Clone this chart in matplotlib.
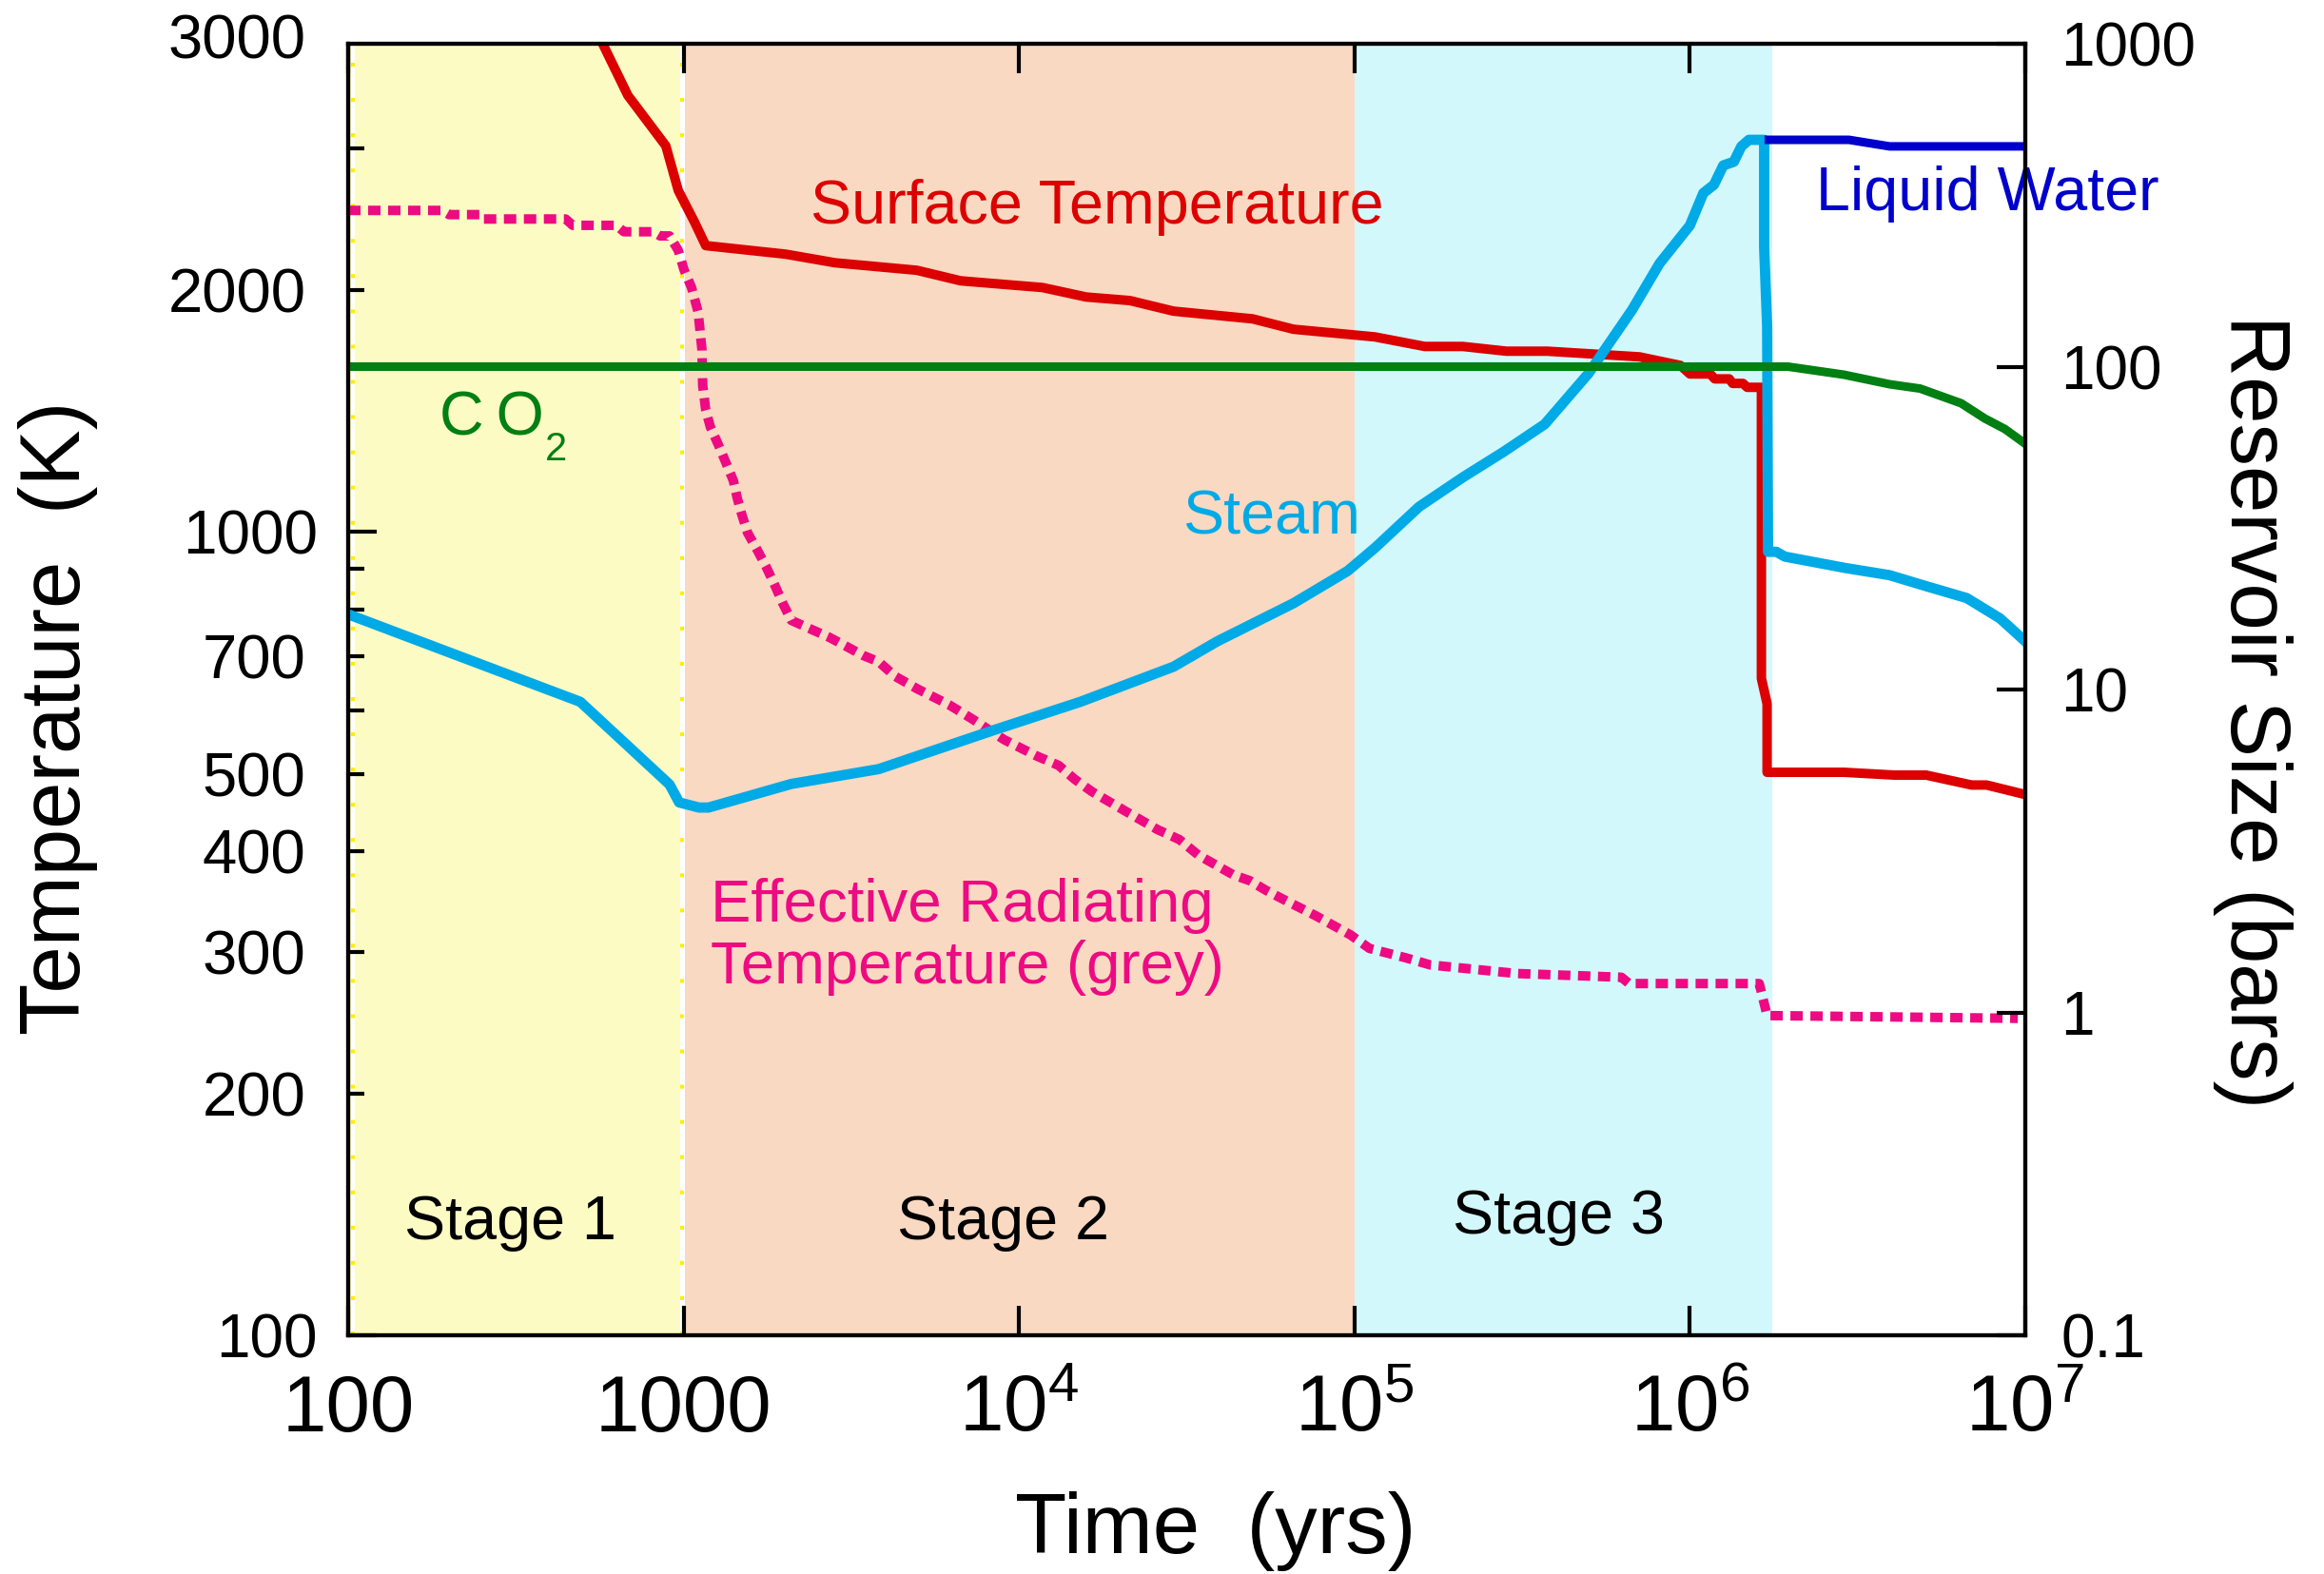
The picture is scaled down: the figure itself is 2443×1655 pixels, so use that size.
import matplotlib
matplotlib.use("Agg")
import matplotlib.pyplot as plt
from matplotlib.ticker import NullLocator

plt.rcParams['font.family'] = ['Liberation Sans', 'DejaVu Sans']
plt.rcParams['mathtext.fontset'] = 'custom'
plt.rcParams['mathtext.rm'] = 'Liberation Sans'
plt.rcParams['mathtext.it'] = 'Liberation Sans:italic'
plt.rcParams['mathtext.bf'] = 'Liberation Sans:bold'
plt.rcParams['mathtext.default'] = 'regular'

# ---- data -------------------------------------------------------------
# time axis (years) for each series; temperatures in K, reservoirs in bars
surf_t = [553, 682, 885, 964, 1077, 1164, 2015, 2829, 4960, 6700, 11740,
          15850, 21410, 28900, 49700, 65800, 115300, 162000, 210400, 284000,
          376000, 708000, 937000, 1.0e6, 1.15e6, 1.186e6, 1.31e6, 1.342e6,
          1.44e6, 1.482e6, 1.634e6, 1.634e6, 1.699e6, 1.699e6, 2.88e6,
          4.07e6, 5.06e6, 6.92e6, 7.67e6, 1.0e7]
surf_T = [4180, 3493, 3023, 2660, 2431, 2271, 2216, 2162, 2116, 2053, 2014,
          1960, 1940, 1882, 1841, 1787, 1748, 1701, 1701, 1678, 1678, 1651,
          1611, 1572, 1572, 1550, 1550, 1530, 1530, 1513, 1513, 657, 611,
          502, 502, 498, 498, 484, 484, 471]

eff_t = [100, 190, 200, 250, 253, 445, 467, 630, 664, 810, 851, 908, 964,
         1002, 1056, 1105, 1134, 1140, 1164, 1202, 1268, 1336, 1407, 1444,
         1492, 1552, 1656, 1757, 1875, 1975, 2094, 2388, 2720, 3040, 3420,
         3818, 4270, 4960, 6190, 7200, 9040, 11290, 13120, 14660, 16490,
         20590, 25870, 30060, 34240, 43600, 48730, 54450, 62030, 76440,
         97350, 110900, 142200, 168500, 305100, 625000, 659000, 1.61e6,
         1.70e6, 9.5e6]
eff_T = [2512, 2512, 2482, 2482, 2451, 2451, 2407, 2407, 2363, 2363, 2335,
         2335, 2240, 2121, 2014, 1877, 1687, 1521, 1418, 1350, 1285, 1220,
         1158, 1103, 1050, 997, 950, 907, 856, 815, 776, 757, 739, 721, 702,
         689, 661, 638, 609, 586, 551, 526, 512, 492, 475, 450, 426, 414,
         396, 374, 368, 358, 348, 333, 315, 303, 295, 289, 282, 279, 274,
         274, 250, 248]

steam_t = [100, 492, 908, 970, 1111, 1187, 2094, 3818, 8360, 15240, 28900,
           39000, 65800, 95500, 115300, 155800, 210400, 278600, 369000,
           498000, 672000, 812000, 1.0e6, 1.097e6, 1.18e6, 1.258e6, 1.352e6,
           1.424e6, 1.5e6, 1.665e6, 1.665e6, 1.70e6, 1.71e6, 1.81e6, 1.92e6,
           2.9e6, 3.94e6, 5.06e6, 6.69e6, 8.41e6, 1.0e7]
steam_P = [17.1, 9.16, 5.08, 4.47, 4.31, 4.31, 5.1, 5.67, 7.47, 9.16, 11.77,
           14.1, 18.5, 23.3, 27.5, 36.8, 45.4, 54.5, 66.3, 95.1, 149.7, 208.7,
           273.7, 344.8, 366, 420, 431, 481, 504, 504, 234, 133, 26.7, 26.7,
           25.8, 23.8, 22.6, 20.9, 19.2, 16.6, 14.1]

co2_t = [100, 1.96e6, 2.88e6, 3.94e6, 4.86e6, 6.44e6, 7.57e6, 8.69e6, 1.0e7]
co2_P = [100, 100, 94.4, 88.2, 85.5, 77.0, 69.1, 64.1, 57.7]

water_t = [1.72e6, 2.98e6, 3.94e6, 1.0e7]
water_P = [504, 504, 481, 481]

stage_edges = [100, 1000, 1e5, 1.755e6]
stage_names = ['Stage 1', 'Stage 2', 'Stage 3']

x_ticks = [1e2, 1e3, 1e4, 1e5, 1e6, 1e7]
x_labels = ['100', '1000', r'$10^{4}$', r'$10^{5}$', r'$10^{6}$', r'$10^{7}$']
t_major = [100, 1000]
t_major_labels = ['100', '1000']
t_minor = [200, 300, 400, 500, 600, 700, 800, 900, 2000, 3000]
t_minor_labels = ['200', '300', '400', '500', '', '700', '', '', '2000', '']
p_ticks = [0.1, 1, 10, 100, 1000]
p_labels = ['0.1', '1', '10', '100', '1000']

# ---- colours ----------------------------------------------------------
C_STAGE = ['#FDFBC4', '#F9D9C2', '#D2F8FC']
C_RED = '#DC0000'
C_PINK = '#EE0A82'
C_STEAM = '#00AAE6'
C_GREEN = '#007F12'
C_BLUE = '#0000CC'
C_DOT = '#FFEE00'

W, H = 2443, 1655
fig = plt.figure(figsize=(W / 100, H / 100), dpi=100)
ax = fig.add_axes([366 / W, 1 - 1404 / H, (2129 - 366) / W, (1404 - 46) / H])
ax2 = ax.twinx()

ax.set_xscale('log')
ax.set_yscale('log')
ax2.set_yscale('log')

# stage shading
for lo, hi, col in zip(stage_edges[:-1], stage_edges[1:], C_STAGE):
    ax.axvspan(lo, hi, color=col, lw=0, zorder=0)
# dotted outline of the first stage box
for xb, wd in ((stage_edges[0] * 1.033, 2.9), (stage_edges[1] * 0.991, 3.6)):
    ax.axvline(xb, color='white', lw=wd, zorder=0.5)
    ax.axvline(xb, color=C_DOT, lw=2.9, dashes=(1.0, 8.2), zorder=0.6)

pres = ax2.transData  # bars scale on the right-hand axis

ax.plot(surf_t, surf_T, color=C_RED, lw=7.2, zorder=2)
ax.plot(eff_t, eff_T, color=C_PINK, lw=7.2, dashes=(1.3, 0.8),
        dash_capstyle='butt', zorder=3)
ax.plot(steam_t, steam_P, transform=pres, color=C_STEAM, lw=7.8, zorder=4)
ax.plot(co2_t, co2_P, transform=pres, color=C_GREEN, lw=6.5, zorder=5)
ax.plot(water_t, water_P, transform=pres, color=C_BLUE, lw=6.5, zorder=5)

ax.set_xlim(100, 1e7)
ax.set_ylim(100, 4050)
ax2.set_ylim(0.1, 1000)

# ---- ticks ------------------------------------------------------------
ax.tick_params(axis='x', which='major', direction='in', length=22, width=3,
               top=True, bottom=True, labelsize=60, pad=72.7)
ax.set_xticks(x_ticks, labels=x_labels)
ax.xaxis.set_minor_locator(NullLocator())
for lab in ax.get_xticklabels():
    lab.set_verticalalignment('baseline')

ax.set_yticks(t_major, labels=t_major_labels)
ax.set_yticks(t_minor, labels=t_minor_labels, minor=True)
ax.tick_params(axis='y', which='major', direction='in', length=21.6, width=3,
               labelsize=46, pad=23, right=False)
ax.tick_params(axis='y', which='minor', direction='in', length=12, width=3,
               labelsize=47, pad=32, right=False)

ax2.set_yticks(p_ticks, labels=p_labels)
ax2.yaxis.set_minor_locator(NullLocator())
ax2.tick_params(axis='y', which='major', direction='in', length=21.6,
                width=3, labelsize=46, pad=27)

for a in (ax, ax2):
    for sp in a.spines.values():
        sp.set_linewidth(3)

ax.annotate('3000', xy=(0, 1), xycoords='axes fraction', xytext=(-32, 5.8),
            textcoords='offset points', ha='right', va='center_baseline',
            fontsize=47)

# ---- in-plot labels ---------------------------------------------------
FS = 46.5
ax.text(17090, 2418, 'Surface Temperature', color=C_RED, fontsize=FS,
        ha='center', va='baseline')
ax.text(56620, 30.3, 'Steam', color=C_STEAM, fontsize=FS, ha='center',
        va='baseline', transform=pres)
ax.text(2.378e6, 305, 'Liquid Water', color=C_BLUE, fontsize=FS, ha='left',
        va='baseline', transform=pres, zorder=10)
ax.text(187, 61.3, 'C\u2009O', color=C_GREEN, fontsize=FS, ha='left',
        va='baseline', transform=pres)
ax.text(386, 51.3, '2', color=C_GREEN, fontsize=30, ha='left',
        va='baseline', transform=pres)
ax.text(1203, 327.4, 'Effective Radiating', color=C_PINK, fontsize=45.7,
        ha='left', va='baseline')
ax.text(1203, 274.1, 'Temperature (grey)', color=C_PINK, fontsize=45.7,
        ha='left', va='baseline')

stage_x = [304, 8954, 406700]
stage_y = [131.7, 131.7, 133.9]
for name, sx, sy in zip(stage_names, stage_x, stage_y):
    ax.text(sx, sy, name, fontsize=FS, ha='center', va='baseline', zorder=10)

# ---- axis titles ------------------------------------------------------
fig.text(1278 / W, 1 - 1633 / H, 'Time  (yrs)', fontsize=64, ha='center',
         va='baseline')
fig.text(84 / W, 1 - 755 / H, 'Temperature  (K)', fontsize=64, rotation=90,
         rotation_mode='anchor', ha='center', va='baseline')
fig.text(2345 / W, 1 - 748 / H, 'Reservoir Size (bars)', fontsize=64,
         rotation=270, rotation_mode='anchor', ha='center', va='baseline')

fig.savefig('out.png', dpi=100)
